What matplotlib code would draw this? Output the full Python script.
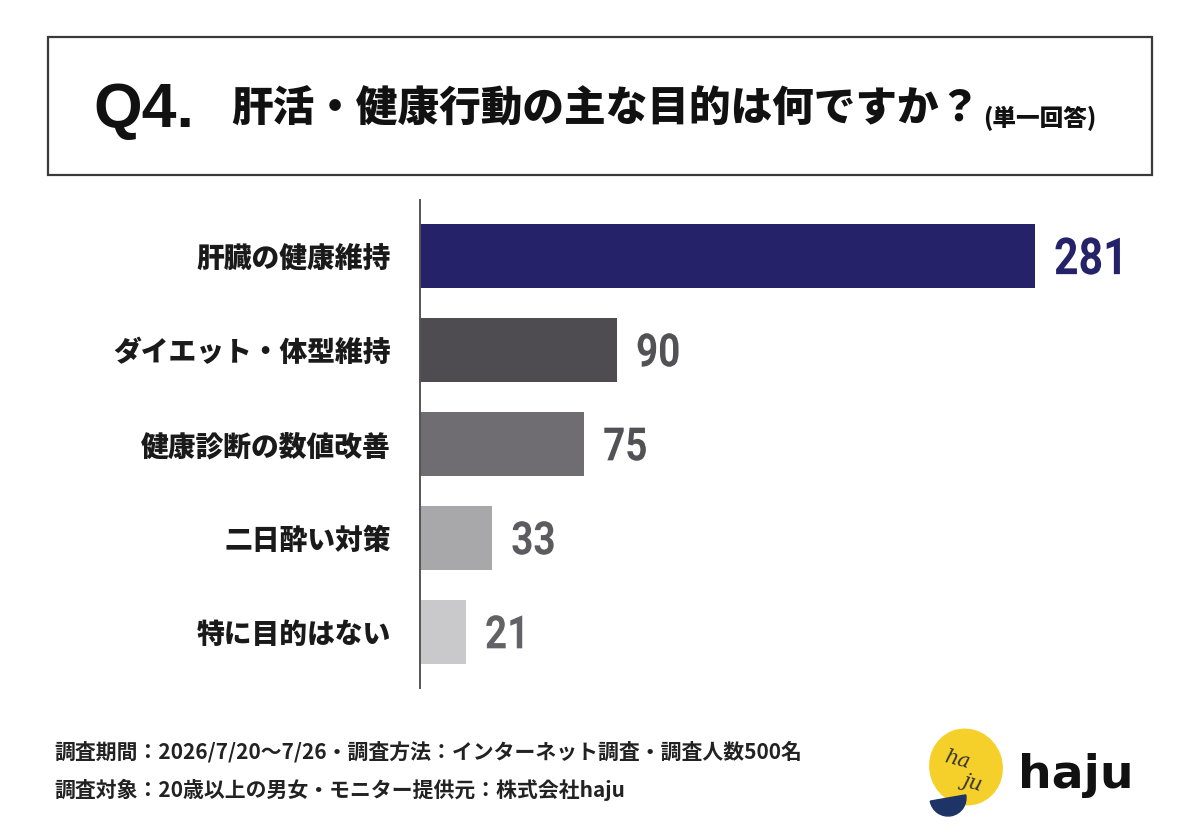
import matplotlib.pyplot as plt
import matplotlib.transforms as mtransforms
from matplotlib.patches import Rectangle, Ellipse, Wedge, PathPatch
from matplotlib.textpath import TextPath
from matplotlib.font_manager import FontProperties

plt.rcParams['font.family'] = ['Noto Sans CJK JP', 'DejaVu Sans']

categories = ['肝臓の健康維持', 'ダイエット・体型維持', '健康診断の数値改善', '二日酔い対策', '特に目的はない']
counts = [281, 90, 75, 33, 21]
bar_colors = ['#25226a', '#4e4b51', '#6f6d72', '#a8a7a9', '#c9c8ca']
label_colors = ['#25226a', '#525156', '#525156', '#5c5b60', '#636267']

title_q = 'Q4.'
title_main = '肝活・健康行動の主な目的は何ですか？'
title_note = '(単一回答)'
footer_lines = ['調査期間：2026/7/20～7/26・調査方法：インターネット調査・調査人数500名',
                '調査対象：20歳以上の男女・モニター提供元：株式会社haju']

W, H = 1200, 838
fig = plt.figure(figsize=(W / 100, H / 100), dpi=100)
fig.patch.set_facecolor('white')


def fx(px):
    return px / W


def fy(py):
    return 1 - py / H


# title box
fig.patches.append(Rectangle((fx(48), fy(175)), fx(1104), 138 / H, transform=fig.transFigure,
                             fill=False, edgecolor='#3a3a3a', linewidth=1.6))
fig.text(fx(93), fy(110), title_q, fontsize=45, fontweight='bold', va='center', ha='left',
         family=['Liberation Sans', 'DejaVu Sans'], color='#111111')
fig.text(fx(231), fy(110), title_main, fontsize=30, fontweight='black', va='center', ha='left',
         color='#111111')
fig.text(fx(983), fy(119), title_note, fontsize=17, fontweight='black', va='center', ha='left',
         color='#111111')

# bars
ax = fig.add_axes([fx(420), fy(688), fx(730), 488 / H])
ypos = list(range(len(categories)))
ax.barh(ypos, counts, height=0.69, color=bar_colors)
ax.set_xlim(0, 281 * 730 / 615)
ax.set_ylim(4.596, -0.596)
ax.set_yticks(ypos)
ax.set_yticklabels(categories, fontsize=20, fontweight='black', color='#1a1a1a')
ax.tick_params(axis='y', length=0, pad=21)
ax.set_xticks([])
for s in ['top', 'right', 'bottom']:
    ax.spines[s].set_visible(False)
ax.spines['left'].set_color('#555555')
ax.spines['left'].set_linewidth(1.4)

# value labels, drawn as horizontally squeezed text paths
num_font = FontProperties(family='Roboto', weight='bold')
for y, v, c in zip(ypos, counts, label_colors):
    em = 51 if y == 0 else 46
    xd, yd = ax.transData.transform((v, y))
    tp = TextPath((0, 0), str(v), size=1, prop=num_font)
    tr = mtransforms.Affine2D().scale(em * 0.84, em).translate(xd + 19, yd - em * 0.711 / 2)
    fig.add_artist(PathPatch(tp, transform=tr, facecolor=c, edgecolor='none'))

# footer
fig.text(fx(54), fy(752), footer_lines[0], fontsize=15, fontweight='bold', va='center', ha='left',
         color='#222222')
fig.text(fx(54), fy(790), footer_lines[1], fontsize=15, fontweight='bold', va='center', ha='left',
         color='#222222')

# logo
lax = fig.add_axes([fx(918), fy(824), fx(100), 100 / H])
lax.set_xlim(0, 100)
lax.set_ylim(0, 100)
lax.set_aspect('equal')
lax.axis('off')
lax.add_patch(Ellipse((48, 57), 72, 76, angle=20, color='#f6d02a'))
lax.add_patch(Wedge((30, 26), 18, 190, 370, color='#1f3466'))
lax.text(40, 64, 'ha', fontsize=15, style='italic', color='#333333', ha='center', va='center',
         family=['DejaVu Serif'], rotation=-15)
lax.text(55, 42, 'ju', fontsize=15, style='italic', color='#333333', ha='center', va='center',
         family=['DejaVu Serif'], rotation=-15)
fig.text(fx(1018), fy(775), 'haju', fontsize=34, fontweight='bold', va='center', ha='left',
         family=['DejaVu Sans'], color='#111111')

fig.savefig('out.png', dpi=100, facecolor='white')
